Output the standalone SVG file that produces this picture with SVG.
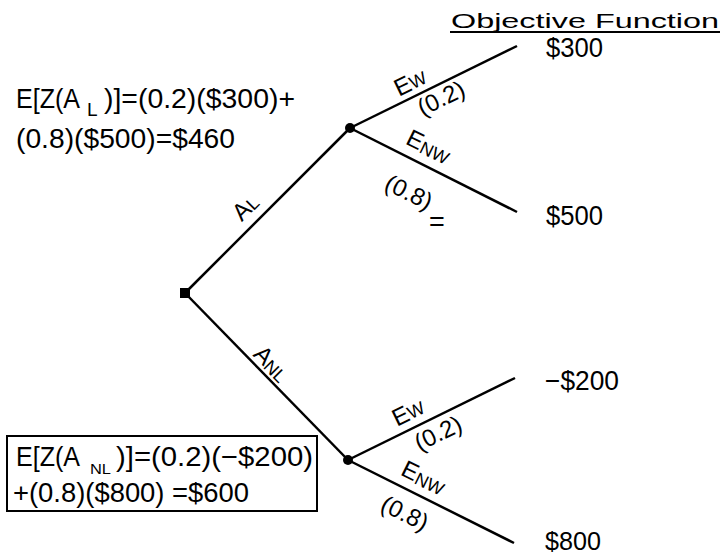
<svg xmlns="http://www.w3.org/2000/svg" width="725" height="557" viewBox="0 0 725 557">
<style>
text{font-family:"Liberation Sans","DejaVu Sans",sans-serif;fill:#000}
.t{font-size:27px}
.s{font-size:19px}
.lb{font-size:24px}
.ls{font-size:18px}
.ln{stroke:#000;stroke-width:2.5;fill:none}
</style>
<rect width="725" height="557" fill="#fff"/>
<g id="connectors">
<line class="ln" x1="185" y1="293" x2="350" y2="128"/>
<line class="ln" x1="185" y1="293" x2="348" y2="460"/>
<line class="ln" x1="350" y1="128" x2="517" y2="46"/>
<line class="ln" x1="350" y1="128" x2="517" y2="212"/>
<line class="ln" x1="348" y1="460" x2="515" y2="378"/>
<line class="ln" x1="348" y1="460" x2="514" y2="543"/>
<g id="lbl-AL" transform="translate(245,207) rotate(-45)"><text class="lb" text-anchor="middle" dominant-baseline="central">A<tspan class="ls" dy="3">L</tspan></text></g>
<g id="lbl-ANL" transform="translate(272,363) rotate(45)"><text class="lb" text-anchor="middle" dominant-baseline="central">A<tspan class="ls" dy="4">NL</tspan></text></g>
<g transform="translate(410,82) rotate(-26)"><text class="lb" text-anchor="middle" dominant-baseline="central">E<tspan class="ls" dy="2">W</tspan></text></g>
<g transform="translate(441,98) rotate(-26)"><text class="lb" text-anchor="middle" dominant-baseline="central">(0.2)</text></g>
<g transform="translate(429,146) rotate(26)"><text class="lb" text-anchor="middle" dominant-baseline="central">E<tspan class="ls" dy="4">NW</tspan></text></g>
<g transform="translate(409,192) rotate(26)"><text class="lb" text-anchor="middle" dominant-baseline="central">(0.8)</text></g>
<g transform="translate(408,412) rotate(-26)"><text class="lb" text-anchor="middle" dominant-baseline="central">E<tspan class="ls" dy="2">W</tspan></text></g>
<g transform="translate(438,433) rotate(-26)"><text class="lb" text-anchor="middle" dominant-baseline="central">(0.2)</text></g>
<g transform="translate(424,477) rotate(26)"><text class="lb" text-anchor="middle" dominant-baseline="central">E<tspan class="ls" dy="4">NW</tspan></text></g>
<g transform="translate(405,513) rotate(26)"><text class="lb" text-anchor="middle" dominant-baseline="central">(0.8)</text></g>
</g>
<g id="root"><rect x="180" y="288" width="10" height="10" fill="#000"/></g>
<g id="chance-AL"><circle cx="350" cy="128" r="5" fill="#000"/></g>
<g id="chance-ANL"><circle cx="348" cy="460" r="5" fill="#000"/></g>
<g id="header">
<text x="451" y="28" font-size="20" textLength="268" lengthAdjust="spacingAndGlyphs">Objective Function</text>
<line x1="450" y1="32" x2="720" y2="32" stroke="#000" stroke-width="2"/>
</g>
<g id="out-300"><text class="t" x="546" y="57" textLength="57" lengthAdjust="spacingAndGlyphs">$300</text></g>
<g id="out-500"><text class="t" x="546" y="225" textLength="57" lengthAdjust="spacingAndGlyphs">$500</text></g>
<g id="out-m200"><text class="t" x="545" y="390" textLength="74" lengthAdjust="spacingAndGlyphs">−$200</text></g>
<g id="out-800"><text x="545" y="550" font-size="25" textLength="56" lengthAdjust="spacingAndGlyphs">$800</text></g>
<g id="eq"><text class="t" x="429" y="231">=</text></g>
<g id="ev-AL">
<text class="t" x="16" y="108" textLength="64" lengthAdjust="spacingAndGlyphs">E[Z(A</text>
<text class="s" x="87" y="116">L</text>
<text class="t" x="104" y="108" textLength="191" lengthAdjust="spacingAndGlyphs">)]=(0.2)($300)+</text>
<text class="t" x="16" y="148" textLength="219" lengthAdjust="spacingAndGlyphs">(0.8)($500)=$460</text>
</g>
<g id="ev-ANL">
<rect x="7" y="436" width="310" height="75" fill="none" stroke="#000" stroke-width="2"/>
<text class="t" x="16" y="466" textLength="64" lengthAdjust="spacingAndGlyphs">E[Z(A</text>
<text x="90" y="474" font-size="15" textLength="21" lengthAdjust="spacingAndGlyphs">NL</text>
<text class="t" x="116" y="466" textLength="197" lengthAdjust="spacingAndGlyphs">)]=(0.2)(−$200)</text>
<text class="t" x="13" y="502" textLength="236" lengthAdjust="spacingAndGlyphs">+(0.8)($800) =$600</text>
</g>
</svg>
